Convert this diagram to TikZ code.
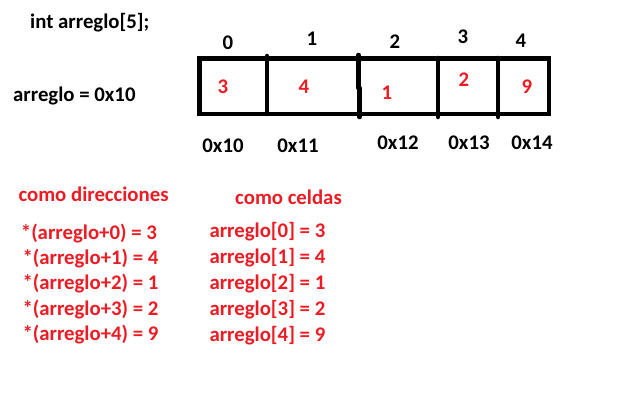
\documentclass[tikz,border=0pt]{standalone}
\usepackage{fontspec}
\setmainfont{Carlito}
\definecolor{pred}{HTML}{ED1C24}
\begin{document}
\begin{tikzpicture}[x=1pt,y=-1pt,
  txt/.style={inner sep=0pt,font=\bfseries\fontsize{20.8}{24}\selectfont},
  lbl/.style={txt,anchor=base west},
  ctr/.style={txt,anchor=base},
  redtxt/.style={text=pred},
  boxline/.style={line width=4.5pt,draw=black},
  divline/.style={line width=4.5pt,draw=black,line cap=round}]
\useasboundingbox[fill=white] (0,0) rectangle (632,412);
% array box
\draw[boxline] (199.5,58.5) rectangle (549,114);
\coordinate (d1t) at (267,56); \coordinate (d1b) at (267,114);
\coordinate (d2t) at (358.5,55); \coordinate (d2m) at (358.5,88);
\coordinate (d2n) at (359.5,88); \coordinate (d2b) at (359.5,117);
\coordinate (d3t) at (438,58); \coordinate (d3b) at (438,117);
\coordinate (d4t) at (498,58); \coordinate (d4b) at (498,117);
\draw[divline] (d1t) -- (d1b);
\draw[divline] (d2t) -- (d2m);
\draw[divline] (d2n) -- (d2b);
\draw[divline] (d3t) -- (d3b);
\draw[divline] (d4t) -- (d4b);
% headings
\node[lbl] (decl) at (30,28.5) {int arreglo[5];};
\node[lbl] (ptr) at (13,101) {arreglo = 0x10};
% indices
\node[ctr] (i0) at (228,49.6) {0};
\node[ctr] (i1) at (312,45.6) {1};
\node[ctr] (i2) at (395,48.6) {2};
\node[ctr] (i3) at (463,43.6) {3};
\node[ctr] (i4) at (521,47.6) {4};
% values
\node[ctr,redtxt] (v0) at (223,93.6) {3};
\node[ctr,redtxt] (v1) at (304,93.6) {4};
\node[ctr,redtxt] (v2) at (387,99.6) {1};
\node[ctr,redtxt] (v3) at (464,86.6) {2};
\node[ctr,redtxt] (v4) at (527,93.6) {9};
% addresses
\node[ctr] (a0) at (223,152.6) {0x10};
\node[ctr] (a1) at (298,152.6) {0x11};
\node[ctr] (a2) at (398,149.6) {0x12};
\node[ctr] (a3) at (469,149.6) {0x13};
\node[ctr] (a4) at (532,149.6) {0x14};
% red lists
\node[lbl,redtxt] (hd) at (18.3,201) {como direcciones};
\node[lbl,redtxt] (hc) at (235,204.3) {como celdas};
\node[lbl,redtxt] (p0) at (20.7,239) {*(arreglo+0) = 3};
\node[lbl,redtxt] (p1) at (22.3,264) {*(arreglo+1) = 4};
\node[lbl,redtxt] (p2) at (22.3,289) {*(arreglo+2) = 1};
\node[lbl,redtxt] (p3) at (22.3,315.5) {*(arreglo+3) = 2};
\node[lbl,redtxt] (p4) at (22.3,340.7) {*(arreglo+4) = 9};
\node[lbl,redtxt] (c0) at (209.3,237.7) {arreglo[0] = 3};
\node[lbl,redtxt] (c1) at (209.3,263.3) {arreglo[1] = 4};
\node[lbl,redtxt] (c2) at (209.3,289.3) {arreglo[2] = 1};
\node[lbl,redtxt] (c3) at (209.3,315.7) {arreglo[3] = 2};
\node[lbl,redtxt] (c4) at (209.3,341) {arreglo[4] = 9};
\end{tikzpicture}
\end{document}
